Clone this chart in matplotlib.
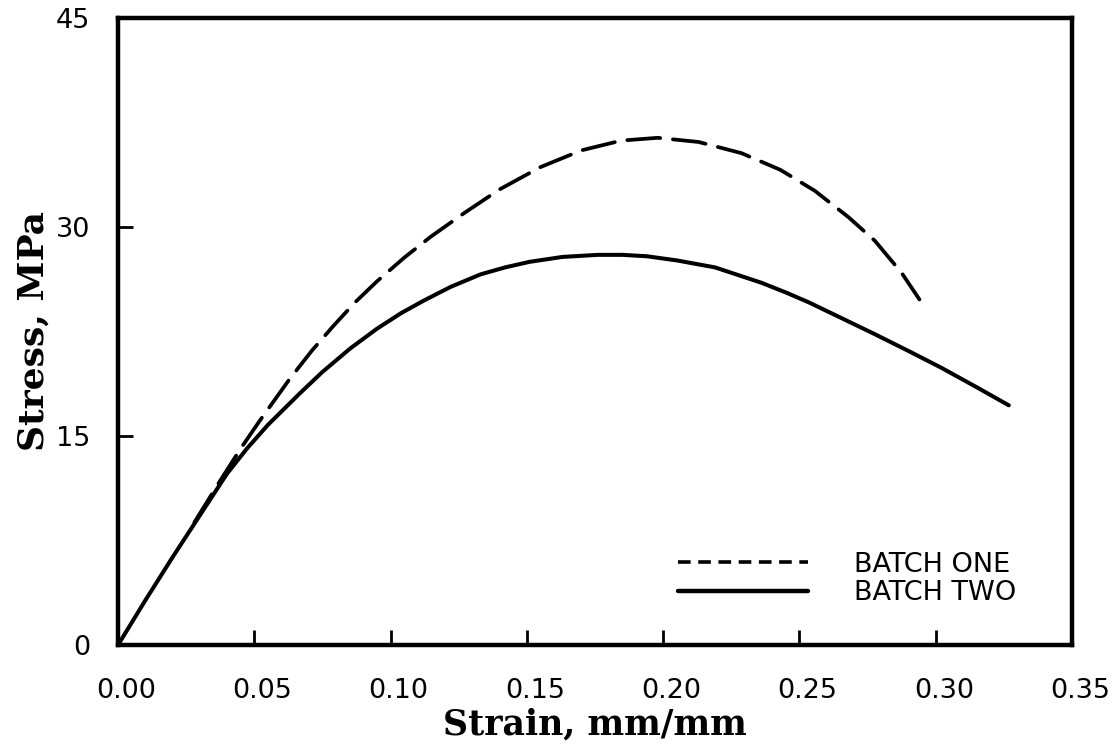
import matplotlib.pyplot as plt
from matplotlib.lines import Line2D
import matplotlib.transforms as mtransforms

# Batch one (dashed curve)
strain_one = [0.028, 0.0375, 0.045, 0.052, 0.063, 0.071, 0.079, 0.087, 0.095,
              0.105, 0.1147, 0.127, 0.140, 0.155, 0.170, 0.1846, 0.198, 0.213,
              0.2287, 0.243, 0.2556, 0.268, 0.2777, 0.2875, 0.294]
stress_one = [8.8, 11.8, 14.1, 16.1, 19.1, 21.1, 22.9, 24.6, 26.1,
              27.8, 29.3, 31.0, 32.7, 34.3, 35.5, 36.2, 36.4, 36.1,
              35.3, 34.1, 32.6, 30.7, 29.0, 26.7, 24.8]

# Batch two (solid curve)
strain_two = [0.0, 0.010, 0.020, 0.030, 0.040, 0.0473, 0.055, 0.0669, 0.075, 0.0853,
              0.095, 0.1037, 0.112, 0.122, 0.133, 0.142, 0.151, 0.163, 0.176, 0.185,
              0.194, 0.205, 0.219, 0.236, 0.245, 0.2533, 0.265, 0.2777, 0.290,
              0.302, 0.315, 0.3268]
stress_two = [0.0, 3.2, 6.3, 9.3, 12.3, 14.1, 15.8, 18.1, 19.6, 21.3,
              22.7, 23.8, 24.7, 25.7, 26.6, 27.1, 27.5, 27.85, 28.0, 28.0,
              27.9, 27.6, 27.1, 26.0, 25.3, 24.6, 23.5, 22.3, 21.1,
              19.9, 18.5, 17.2]

x_ticks = [0.00, 0.05, 0.10, 0.15, 0.20, 0.25, 0.30, 0.35]
y_ticks = [0, 15, 30, 45]
labels = ["BATCH ONE", "BATCH TWO"]

fig = plt.figure(figsize=(11.2, 7.46), dpi=100)
ax = fig.add_axes([0.1054, 0.1354, 0.8518, 0.8405])

lw = 2.7
ax.plot(strain_one, stress_one, color="black", lw=lw, dashes=(8.8, 3.4),
        solid_capstyle="round", dash_capstyle="round", solid_joinstyle="round")
ax.plot(strain_two, stress_two, color="black", lw=lw + 0.2,
        solid_capstyle="round", solid_joinstyle="round")

ax.set_xlim(0, 0.35)
ax.set_ylim(0, 45)
ax.set_xticks(x_ticks)
ax.set_xticklabels([f"{t:.2f}" for t in x_ticks])
ax.set_yticks(y_ticks)
ax.set_yticklabels([str(t) for t in y_ticks])

for s in ax.spines.values():
    s.set_linewidth(3.2)

ax.tick_params(axis="both", direction="in", length=11, width=2.0, labelsize=19.5)
ax.tick_params(axis="x", pad=24)
ax.tick_params(axis="y", pad=20)
for lab in ax.get_xticklabels() + ax.get_yticklabels():
    lab.set_family("DejaVu Sans")

# x tick labels in the scan sit a little right of their ticks
shift = mtransforms.ScaledTranslation(8 / 100, 0, fig.dpi_scale_trans)
for lab in ax.get_xticklabels():
    lab.set_transform(lab.get_transform() + shift)

ax.set_xlabel("Strain, mm/mm", family="DejaVu Serif", weight="bold", fontsize=25, labelpad=2)
ax.set_ylabel("Stress, MPa", family="DejaVu Serif", weight="bold", fontsize=26, labelpad=4)

# legend handles (the legend dashes are shorter than the curve dashes)
h_one = Line2D([], [], color="black", lw=2.6, dashes=(3.5, 2.1))
h_two = Line2D([], [], color="black", lw=3.2, solid_capstyle="round")
ax.legend([h_one, h_two], labels, loc="upper left", bbox_to_anchor=(0.587, 0.149),
          frameon=False, fontsize=19.5, handlelength=4.8, handletextpad=1.7,
          labelspacing=0.1, borderpad=0, borderaxespad=0)

plt.savefig("out.png", dpi=100)
